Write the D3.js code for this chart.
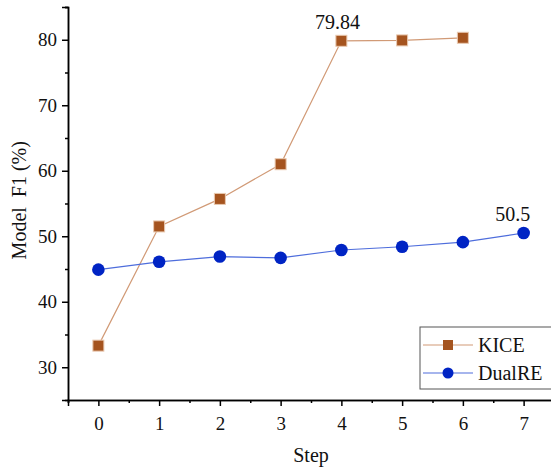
<!DOCTYPE html>
<html>
<head>
<meta charset="utf-8">
<script src="https://cdn.jsdelivr.net/npm/d3@7"></script>
<style>
  body { margin: 0; background: #fff; }
  svg, svg text { font-family: 'Liberation Serif', 'Times New Roman', serif !important; }
</style>
</head>
<body>
<svg id="chart" width="551" height="470"></svg>
<script>
// data
var steps = [0, 1, 2, 3, 4, 5, 6, 7];
var kice = [33.3, 51.5, 55.7, 61.0, 79.84, 79.9, 80.3];
var dualre = [44.9, 46.1, 46.9, 46.7, 47.9, 48.4, 49.1, 50.5];
var yTicks = [30, 40, 50, 60, 70, 80];
var labels = [
  {series: "KICE", step: 4, text: "79.84", dx: -4},
  {series: "DualRE", step: 7, text: "50.5", dx: -11}
];

var serif = "'Liberation Serif'";
var svg = d3.select("#chart").attr("font-family", serif);

var x = d3.scaleLinear().domain([-0.5, 7.5]).range([68, 554]);
var y = d3.scaleLinear().domain([25, 85]).range([400, 7]);

// axes
var xAxis = svg.append("g").attr("transform", "translate(0,400)");
xAxis.call(d3.axisBottom(x).tickValues(steps).tickSize(6).tickFormat(d3.format("d")));
svg.append("g").attr("transform", "translate(0,400)")
  .call(d3.axisBottom(x).tickValues(d3.range(-0.5, 8, 1)).tickSize(3).tickFormat(""));

var yAxis = svg.append("g").attr("transform", "translate(68,0)");
yAxis.call(d3.axisLeft(y).tickValues(yTicks).tickSize(6));
svg.append("g").attr("transform", "translate(68,0)")
  .call(d3.axisLeft(y).tickValues([35, 45, 55, 65, 75, 85]).tickSize(3).tickFormat(""));

svg.selectAll("g").attr("font-family", serif);
svg.selectAll(".domain").attr("stroke", "#000").attr("stroke-width", 1.5);
svg.selectAll(".tick line").attr("stroke", "#000").attr("stroke-width", 1.5);
svg.selectAll(".tick text").attr("font-size", 19).attr("fill", "#111");
xAxis.selectAll(".tick text").attr("dy", "1.1em");
yAxis.selectAll(".tick text").attr("dx", "-0.1em");

// axis titles
svg.append("text")
  .attr("x", x(3.5)).attr("y", 462)
  .attr("text-anchor", "middle")
  .attr("font-size", 20)
  .attr("fill", "#111")
  .text("Step");

svg.append("text")
  .attr("transform", "translate(26," + y(55.5) + ") rotate(-90)")
  .attr("text-anchor", "middle")
  .attr("font-size", 20)
  .attr("fill", "#111")
  .style("white-space", "pre")
  .text("Model  F1 (%)");

var line = d3.line()
  .x(function(d, i){ return x(steps[i]) })
  .y(function(d){ return y(d) });

// KICE
svg.append("path")
  .datum(kice)
  .attr("d", line)
  .attr("fill", "none")
  .attr("stroke", "#D19A76")
  .attr("stroke-width", 1.2);

svg.selectAll("kiceMarks")
  .data(kice)
  .enter()
  .append("rect")
    .attr("x", function(d, i){ return x(steps[i]) - 5.5 })
    .attr("y", function(d){ return y(d) - 5.5 })
    .attr("width", 11)
    .attr("height", 11)
    .attr("fill", "#A5541F")
    .attr("stroke", "#E9C9B0")
    .attr("stroke-width", 1);

// DualRE
svg.append("path")
  .datum(dualre)
  .attr("d", line)
  .attr("fill", "none")
  .attr("stroke", "#4E6DDC")
  .attr("stroke-width", 1.2);

svg.selectAll("dualMarks")
  .data(dualre)
  .enter()
  .append("circle")
    .attr("cx", function(d, i){ return x(steps[i]) })
    .attr("cy", function(d){ return y(d) })
    .attr("r", 6.3)
    .attr("fill", "#0024C4");

// value labels
svg.selectAll("valueLabels")
  .data(labels)
  .enter()
  .append("text")
    .attr("x", function(d){ return x(d.step) + d.dx })
    .attr("y", function(d){
      var v = d.series == "KICE" ? kice[d.step] : dualre[d.step];
      return y(v) - 12;
    })
    .attr("text-anchor", "middle")
    .attr("font-size", 20)
    .attr("fill", "#111")
    .text(function(d){ return d.text });

// legend
var legend = svg.append("g");
legend.append("rect")
  .attr("x", 420).attr("y", 327)
  .attr("width", 140).attr("height", 62)
  .attr("fill", "#fff")
  .attr("stroke", "#555")
  .attr("stroke-width", 1);

legend.append("line")
  .attr("x1", 423).attr("x2", 473).attr("y1", 345).attr("y2", 345)
  .attr("stroke", "#D19A76").attr("stroke-width", 1.2);
legend.append("rect")
  .attr("x", 443).attr("y", 340).attr("width", 10).attr("height", 10)
  .attr("fill", "#A5541F");
legend.append("text")
  .attr("x", 478).attr("y", 352)
  .attr("font-size", 20).attr("fill", "#111")
  .text("KICE");

legend.append("line")
  .attr("x1", 423).attr("x2", 473).attr("y1", 373).attr("y2", 373)
  .attr("stroke", "#4E6DDC").attr("stroke-width", 1.2);
legend.append("circle")
  .attr("cx", 448).attr("cy", 373).attr("r", 5.5)
  .attr("fill", "#0024C4");
legend.append("text")
  .attr("x", 478).attr("y", 380)
  .attr("font-size", 20).attr("fill", "#111")
  .text("DualRE");

svg.selectAll("text").attr("font-family", serif).style("font-family", serif);
</script>
</body>
</html>
